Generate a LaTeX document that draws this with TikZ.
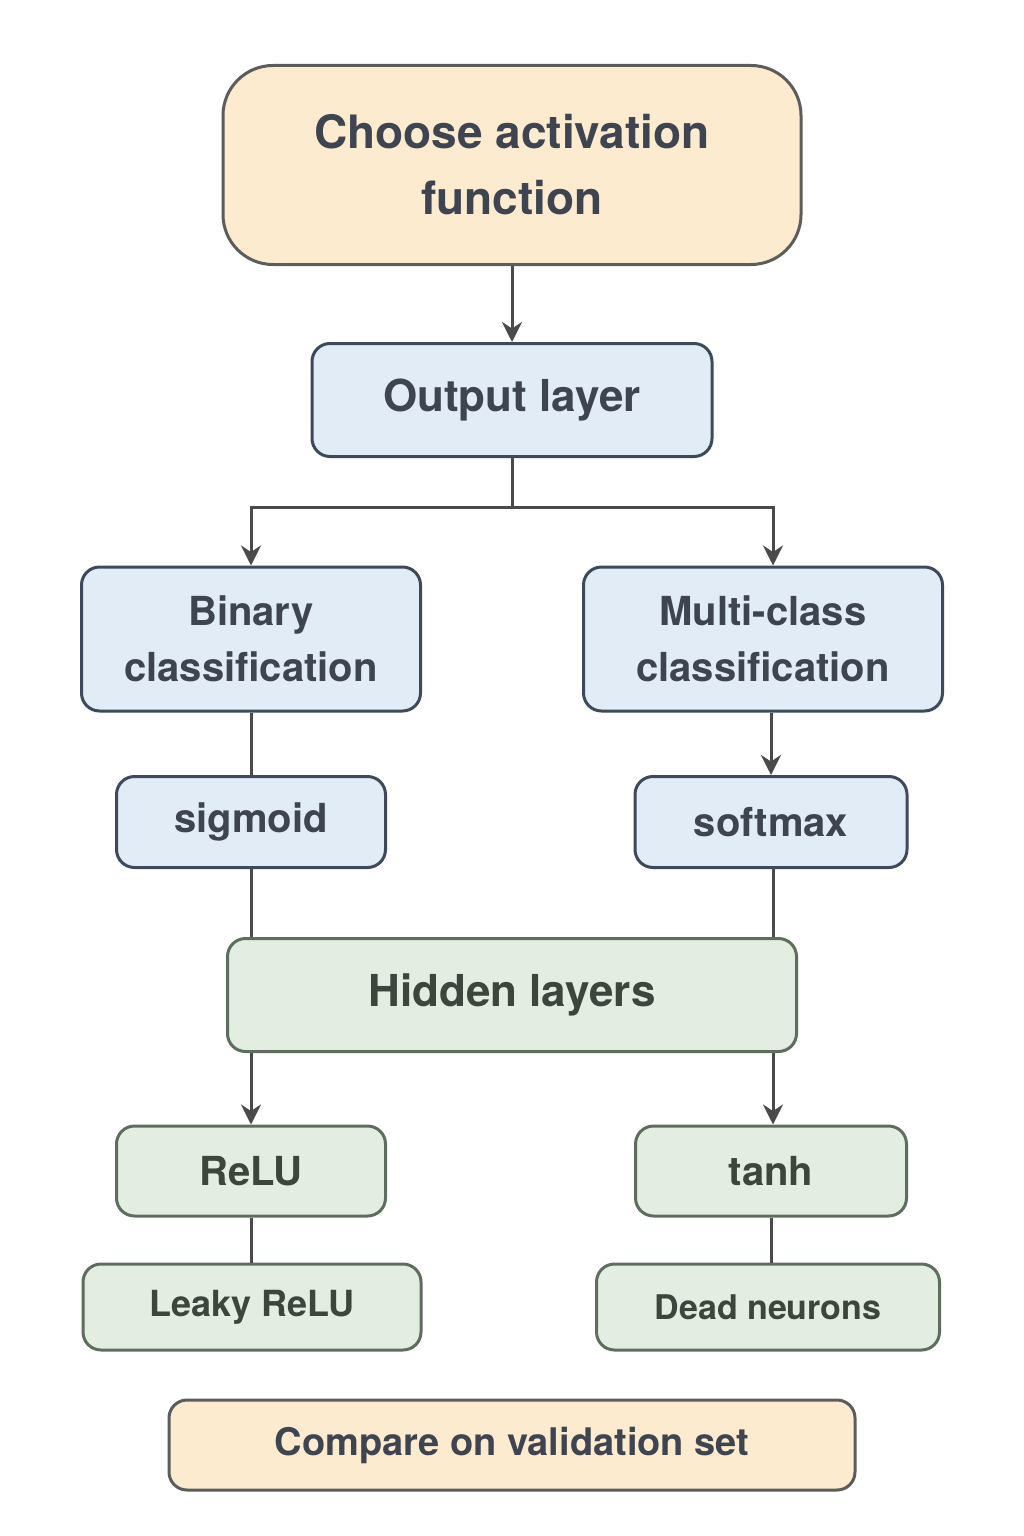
\documentclass[tikz,border=0pt]{standalone}
\usepackage{fontspec}
\setmainfont{TeX Gyre Heros}
\usetikzlibrary{arrows.meta}
\definecolor{orf}{HTML}{FDEBD0}
\definecolor{blf}{HTML}{E2ECF6}
\definecolor{grf}{HTML}{E3EDE1}
\definecolor{bd}{HTML}{4A4A4A}
\definecolor{blb}{HTML}{3E4A5C}
\definecolor{grb}{HTML}{5E6E5E}
\definecolor{tx}{HTML}{3E4550}
\definecolor{txg}{HTML}{3C463C}
\begin{document}
\begin{tikzpicture}[x=1pt,y=-1pt,
  box/.style={draw, line width=3pt, rounded corners=18pt, align=center, inner sep=0pt, font=\bfseries},
  ob/.style={box, fill=orf, draw=bd!90, text=tx},
  bb/.style={box, fill=blf, draw=blb, text=tx},
  gb/.style={box, fill=grf, draw=grb, text=txg},
  ln/.style={draw=bd, line width=3pt},
  ar/.style={ln, -{Stealth[length=20pt,width=20pt]}}]
\useasboundingbox (0,0) rectangle (1024,1536);
\node[ob, rounded corners=50pt, minimum width=578pt, minimum height=199pt, font=\bfseries\fontsize{46}{66}\selectfont] (choose) at (512,165) {Choose activation\\function};
\node[bb, minimum width=400pt, minimum height=113pt, font=\bfseries\fontsize{44}{50}\selectfont] (out) at (512,400) {Output layer};
\node[bb, minimum width=339pt, minimum height=144pt, font=\bfseries\fontsize{40}{56}\selectfont] (bin) at (251,639) {Binary\\classification};
\node[bb, minimum width=359pt, minimum height=144pt, font=\bfseries\fontsize{40}{56}\selectfont] (multi) at (763,639) {Multi-class\\classification};
\node[bb, minimum width=269pt, minimum height=91pt, font=\bfseries\fontsize{40}{48}\selectfont] (sig) at (251,822) {sigmoid};
\node[bb, minimum width=272pt, minimum height=91pt, font=\bfseries\fontsize{40}{48}\selectfont] (soft) at (771,822) {softmax};
\node[gb, minimum width=569pt, minimum height=113pt, font=\bfseries\fontsize{44}{50}\selectfont] (hid) at (512,995) {Hidden layers};
\node[gb, minimum width=269pt, minimum height=90pt, font=\bfseries\fontsize{40}{48}\selectfont] (relu) at (251,1171) {ReLU};
\node[gb, minimum width=271pt, minimum height=90pt, font=\bfseries\fontsize{40}{48}\selectfont] (tanh) at (771,1171) {tanh};
\node[gb, minimum width=338pt, minimum height=86pt, font=\bfseries\fontsize{36}{44}\selectfont] (leaky) at (252,1307) {Leaky ReLU};
\node[gb, minimum width=343pt, minimum height=86pt, font=\bfseries\fontsize{34}{44}\selectfont] (dead) at (768,1307) {Dead neurons};
\node[ob, minimum width=686pt, minimum height=90pt, font=\bfseries\fontsize{38}{44}\selectfont] (cmp) at (512,1445) {Compare on validation set};
\coordinate (j) at (512,507);
\draw[ar] (choose) -- (out);
\draw[ln] (out) -- (j);
\draw[ar] (j) -| (bin.north);
\draw[ar] (j) -| ([xshift=10pt]multi.north);
\draw[ln] (bin) -- (sig);
\draw[ar] ([xshift=8pt]multi.south) -- (soft.north);
\draw[ln] (sig.south) -- (sig.south |- hid.north);
\draw[ln] ([xshift=2pt]soft.south) -- ([xshift=2pt]soft.south |- hid.north);
\draw[ar] (relu.north |- hid.south) -- (relu.north);
\draw[ar] ([xshift=2pt]tanh.north |- hid.south) -- ([xshift=2pt]tanh.north);
\draw[ln] (relu) -- (relu.south |- leaky.north);
\draw[ln] (tanh) -- (tanh.south |- dead.north);
\end{tikzpicture}
\end{document}
